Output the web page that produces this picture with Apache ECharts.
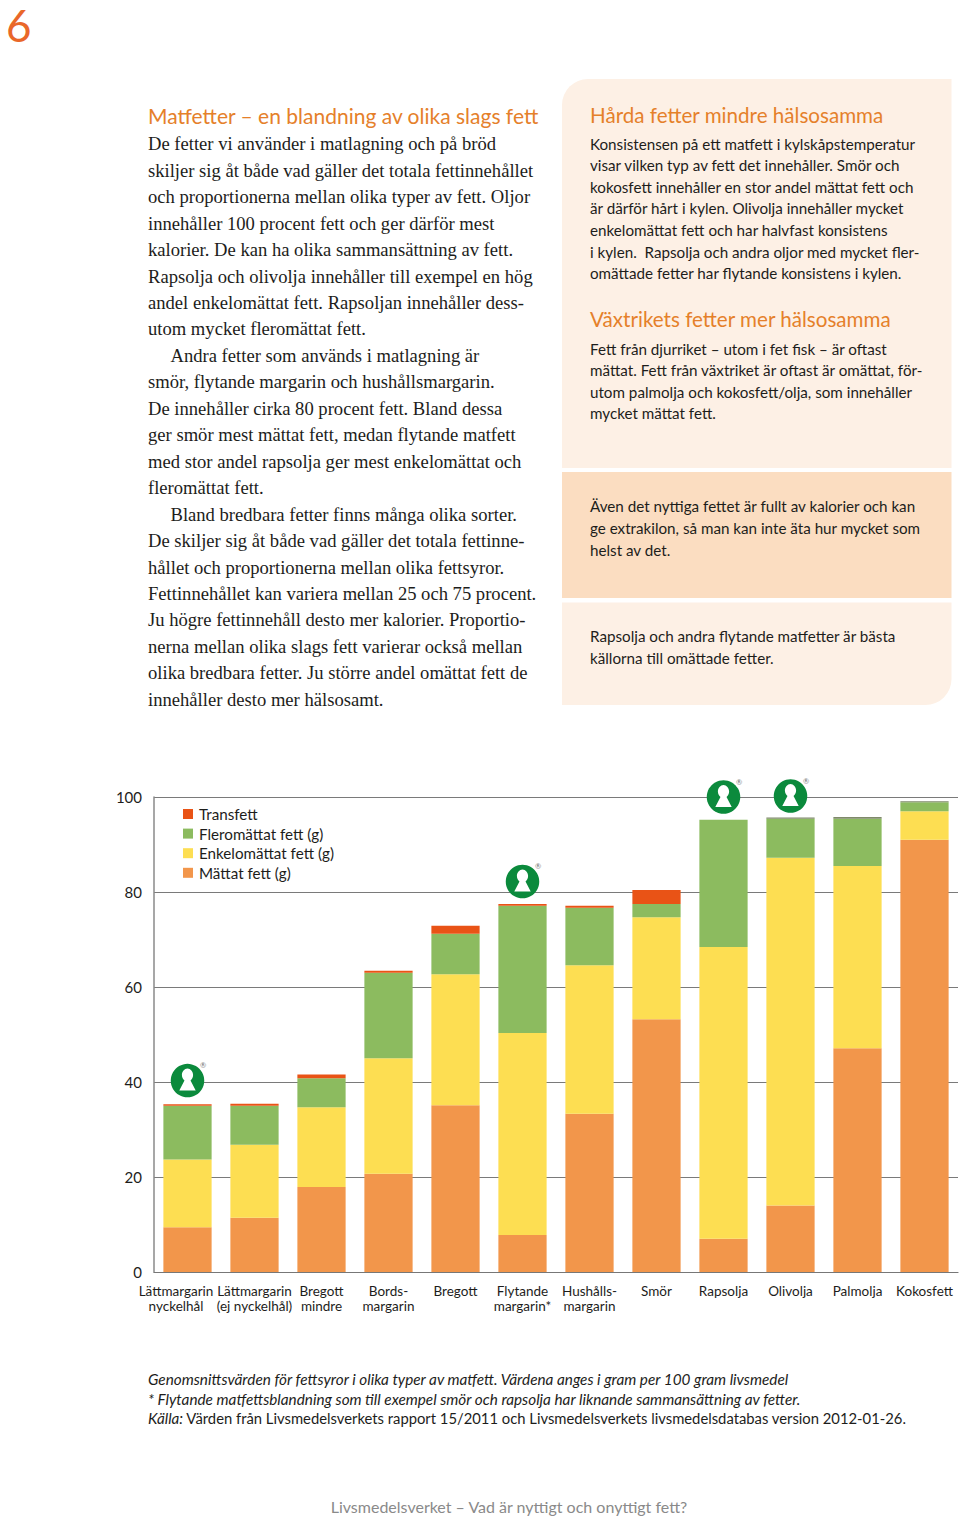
<!DOCTYPE html>
<html><head><meta charset="utf-8">
<style>html,body{margin:0;padding:0;background:#fff}#c{width:960px;height:1517px}</style>
<script src="https://cdn.jsdelivr.net/npm/echarts@6/dist/echarts.min.js"></script>
</head><body><div id="c"></div>
<script>
const categories = ['Lättmargarin\nnyckelhål','Lättmargarin\n(ej nyckelhål)','Bregott\nmindre','Bords-\nmargarin','Bregott','Flytande\nmargarin*','Hushålls-\nmargarin','Smör','Rapsolja','Olivolja','Palmolja','Kokosfett'];
const mattat = [9.4,11.4,17.9,20.7,35.1,7.8,33.3,53.2,7.0,14.0,47.1,91.0];
const enkel  = [14.3,15.4,16.8,24.3,27.6,42.5,31.3,21.5,61.4,73.2,38.4,6.0];
const fler   = [11.3,8.2,6.1,18.0,8.5,26.8,12.1,2.8,26.8,8.2,9.9,1.9];
const trans  = [0.3,0.4,0.8,0.4,1.7,0.4,0.4,2.9,0,0.3,0.4,0.2];
const keyholes = [[0,40.3],[5,82.2],[8,100],[9,100.2]];
const legendNames = ['Transfett','Fleromättat fett (g)','Enkelomättat fett (g)','Mättat fett (g)'];

const pageNumber = '6';
const leftTitle = 'Matfetter – en blandning av olika slags fett';
const leftLines = ['De fetter vi använder i matlagning och på bröd','skiljer sig åt både vad gäller det totala fettinnehållet','och proportionerna mellan olika typer av fett. Oljor','innehåller 100 procent fett och ger därför mest','kalorier. De kan ha olika sammansättning av fett.','Rapsolja och olivolja innehåller till exempel en hög','andel enkelomättat fett. Rapsoljan innehåller dess-','utom mycket fleromättat fett.','    Andra fetter som används i matlagning är','smör, flytande margarin och hushållsmargarin.','De innehåller cirka 80 procent fett. Bland dessa','ger smör mest mättat fett, medan flytande matfett','med stor andel rapsolja ger mest enkelomättat och','fleromättat fett.','    Bland bredbara fetter finns många olika sorter.','De skiljer sig åt både vad gäller det totala fettinne-','hållet och proportionerna mellan olika fettsyror.','Fettinnehållet kan variera mellan 25 och 75 procent.','Ju högre fettinnehåll desto mer kalorier. Proportio-','nerna mellan olika slags fett varierar också mellan','olika bredbara fetter. Ju större andel omättat fett de','innehåller desto mer hälsosamt.'];
const rightTitle1 = 'Hårda fetter mindre hälsosamma';
const rightLines1 = ['Konsistensen på ett matfett i kylskåpstemperatur','visar vilken typ av fett det innehåller. Smör och','kokosfett innehåller en stor andel mättat fett och','är därför hårt i kylen. Olivolja innehåller mycket','enkelomättat fett och har halvfast konsistens','i kylen.  Rapsolja och andra oljor med mycket fler-','omättade fetter har flytande konsistens i kylen.'];
const rightTitle2 = 'Växtrikets fetter mer hälsosamma';
const rightLines2 = ['Fett från djurriket – utom i fet fisk – är oftast','mättat. Fett från växtriket är oftast är omättat, för-','utom palmolja och kokosfett/olja, som innehåller','mycket mättat fett.'];
const rightLines3 = ['Även det nyttiga fettet är fullt av kalorier och kan','ge extrakilon, så man kan inte äta hur mycket som','helst av det.'];
const rightLines4 = ['Rapsolja och andra flytande matfetter är bästa','källorna till omättade fetter.'];
const noteLines = ['Genomsnittsvärden för fettsyror i olika typer av matfett. Värdena anges i gram per 100 gram livsmedel','* Flytande matfettsblandning som till exempel smör och rapsolja har liknande sammansättning av fetter.'];
const sourceLabel = 'Källa:';
const sourceText = ' Värden från Livsmedelsverkets rapport 15/2011 och Livsmedelsverkets livsmedelsdatabas version 2012-01-26.';
const footer = 'Livsmedelsverket – Vad är nyttigt och onyttigt fett?';

const SANS = 'Lato, sans-serif', SERIF = '"Liberation Serif", serif';
const ORANGE = '#E5802A', INK = '#1d1d1b';
const BODY = 15.2;
const KEY = 'path://M9.5 0C13 0 16 3 16 6.5C16 9 14.5 11 13 12L19 22L0 22L6 12C4.5 11 3 9 3 6.5C3 3 6 0 9.5 0Z';

function txt(text, x, y, size, family, fill, extra){
  return {type:'text', silent:true, style:Object.assign({text, x, y, fontSize:size, fontFamily:family, fill, verticalAlign:'middle'}, extra||{})};
}
function block(lines, x, y0, step, size, family){
  return lines.map((l,i)=>{
    const ind = l.startsWith('    ');
    return txt(l.trim(), x+(ind?22.5:0), y0+i*step, size, family, INK);
  });
}
const graphics = [
  {type:'rect', silent:true, shape:{x:562,y:79,width:389.5,height:389,r:[26,0,0,0]}, style:{fill:'#FDF0E5'}},
  {type:'rect', silent:true, shape:{x:562,y:472,width:389.5,height:126}, style:{fill:'#FBDDC1'}},
  {type:'rect', silent:true, shape:{x:562,y:602.5,width:389.5,height:102.5,r:[0,0,26,0]}, style:{fill:'#FDF0E5'}},
  txt(pageNumber, 6, 25, 44, SANS, '#E9672A', {lineHeight:44}),
  txt(leftTitle, 148, 115, 21, SANS, ORANGE),
  ...block(leftLines, 148, 143.8, 26.45, 18.6, SERIF),
  txt(rightTitle1, 590, 115, 20.6, SANS, ORANGE),
  ...block(rightLines1, 590, 143.5, 21.6, BODY, SANS),
  txt(rightTitle2, 590, 319, 20.6, SANS, ORANGE),
  ...block(rightLines2, 590, 348.5, 21.6, BODY, SANS),
  ...block(rightLines3, 590, 506.3, 21.6, BODY, SANS),
  ...block(rightLines4, 590, 636.3, 21.6, BODY, SANS),
  ...noteLines.map((l,i)=>txt(l, 148, 1378.5+i*20, 15.3, SANS, INK, {fontStyle:'italic'})),
  {type:'text', silent:true, style:{x:148, y:1418, verticalAlign:'middle', text:'{i|'+sourceLabel+'}{n|'+sourceText+'}',
    rich:{i:{fontStyle:'italic',fontSize:15.2,fontFamily:SANS,fill:INK},n:{fontSize:14.8,fontFamily:SANS,fill:INK}}}},
  txt(footer, 509, 1506, 16, SANS, '#8a8a8a', {align:'center'})
];

const barSeries = (name, data, color) => ({name, type:'bar', stack:'fett', data, itemStyle:{color}, barWidth:'72%', silent:true});
const chart = echarts.init(document.getElementById('c'), null, {renderer:'svg'});
chart.setOption({
  animation:false,
  backgroundColor:'#fff',
  grid:{left:154, top:797, width:804, height:475, containLabel:false},
  legend:{data:legendNames, orient:'vertical', left:183, top:806.5, padding:0, itemWidth:10, itemHeight:10, itemGap:4.6, icon:'rect', selectedMode:false,
    textStyle:{fontFamily:SANS, fontSize:15.2, color:INK, padding:[0,0,0,1]}},
  xAxis:{type:'category', data:categories,
    axisLine:{lineStyle:{color:'#777',width:1.2}}, axisTick:{show:false},
    axisLabel:{interval:0, margin:11, hideOverlap:false,
      formatter:(v,i)=> i===0 ? v.split('\n').map(s=>'{f|'+s+'}').join('\n') : v.split('\n').map(s=>'{n|'+s+'}').join('\n'),
      rich:{f:{fontFamily:SANS,fontSize:13.5,color:INK,lineHeight:15.5,padding:[0,23,0,0]},
            n:{fontFamily:SANS,fontSize:13.5,color:INK,lineHeight:15.5}}}},
  yAxis:{type:'value', min:0, max:100, interval:20,
    axisLine:{show:true,lineStyle:{color:'#8a8a8a',width:1.5}}, axisTick:{show:false},
    axisLabel:{margin:12, fontFamily:SANS, fontSize:15, color:INK},
    splitLine:{lineStyle:{color:'#7a7a7a',width:1.1}}},
  series:[
    barSeries(legendNames[3], mattat, '#F2964B'),
    barSeries(legendNames[2], enkel, '#FDDE52'),
    barSeries(legendNames[1], fler, '#8CBB5F'),
    barSeries(legendNames[0], trans.map((v,i)=> i>=9 ? {value:v, itemStyle:{color:'#7f8a6a'}} : v), '#E95316'),
    {type:'scatter', silent:true, clip:false, z:5, data:keyholes, symbol:'circle', symbolSize:33.5, itemStyle:{color:'#0B8A3C', opacity:1},
      label:{show:true, formatter:'®', position:'inside', offset:[15.5,-15], fontSize:7.5, color:'#777', fontFamily:SANS}},
    {type:'scatter', silent:true, clip:false, z:6, data:keyholes, symbol:KEY, symbolSize:[19,22], symbolKeepAspect:true, symbolOffset:[0,-1], itemStyle:{color:'#fff', opacity:1}}
  ],
  graphic:graphics
});
</script></body></html>
